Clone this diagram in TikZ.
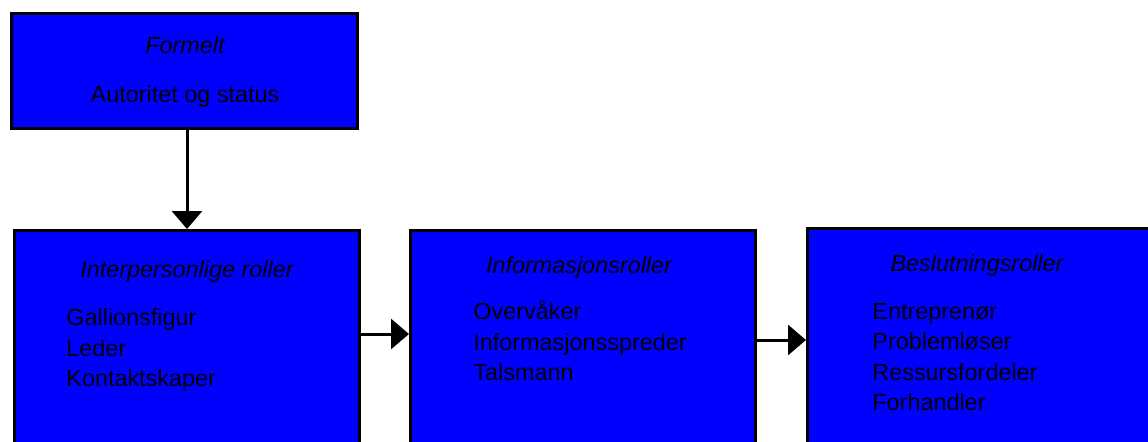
\documentclass[tikz,border=0pt]{standalone}
\usepackage{fontspec}
\setmainfont{Liberation Sans}
\usepackage{tikz}
\usetikzlibrary{arrows.meta,positioning,fit}
\definecolor{rolebg}{HTML}{0000FF}
\tikzset{
  box/.style   = {draw=black, line width=1.5pt, fill=rolebg, inner sep=0pt},
  ttl/.style   = {font=\fontsize{11.7}{14}\selectfont\itshape, inner sep=0pt},
  lst/.style   = {font=\fontsize{11.7}{15.3}\selectfont, align=left, inner sep=0pt, anchor=west},
  ar/.style    = {-{Triangle[length=9pt, width=15pt]}, line width=1.5pt},
}
\begin{document}
\begin{tikzpicture}[x=0.5pt, y=-0.5pt]
  \useasboundingbox (0,0) rectangle (1148,441);
  \clip (0,0) rectangle (1148,441);
  % boxes
  \node[box, fit={(11.5,13.5) (357.5,128.5)}] (formelt) {};
  \node[box, fit={(14.5,230.5) (359.5,480)}] (inter) {};
  \node[box, fit={(410.5,230.5) (755.5,480)}] (info) {};
  \node[box, fit={(807.5,228.5) (1160,480)}] (beslut) {};
  % texts
  \node[ttl] (formelt-t) at (185,45) {Formelt};
  \node[font=\fontsize{11.7}{14}\selectfont, inner sep=0pt] (formelt-l) at (185,96) {Autoritet og status};
  \node[ttl] (inter-t) at (187,271) {Interpersonlige roller};
  \node[lst] (inter-l) at (66,350) {Gallionsfigur\\Leder\\Kontaktskaper};
  \node[ttl] (info-t) at (579,267) {Informasjonsroller};
  \node[lst] (info-l) at (473,341) {Overvåker\\Informasjonsspreder\\Talsmann};
  \node[ttl] (beslut-t) at (977,265) {Beslutningsroller};
  \node[lst] (beslut-l) at (872,357) {Entreprenør\\Problemløser\\Ressursfordeler\\Forhandler};
  % arrows
  \draw[ar] (formelt.south -| 187,0) -- (inter.north -| 187,0);
  \draw[ar] (inter.east |- 0,334) -- (info.west |- 0,334);
  \draw[ar] (info.east |- 0,340) -- (beslut.west |- 0,340);
\end{tikzpicture}
\end{document}
